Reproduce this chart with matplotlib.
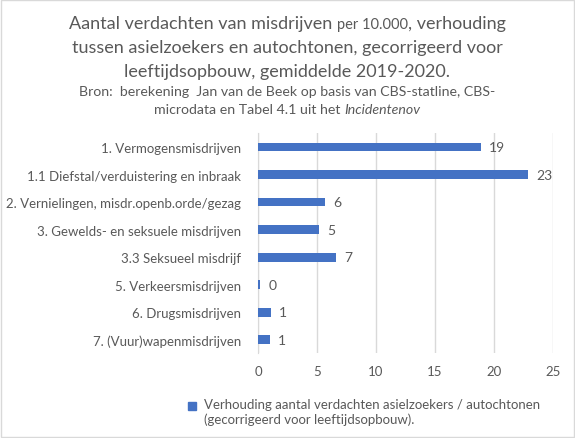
import matplotlib
matplotlib.use("Agg")
import matplotlib.pyplot as plt
from matplotlib.patches import Rectangle

categories = [
    "1. Vermogensmisdrijven",
    "1.1 Diefstal/verduistering en inbraak",
    "2. Vernielingen, misdr.openb.orde/gezag",
    "3. Gewelds- en seksuele misdrijven",
    "3.3 Seksueel misdrijf",
    "5. Verkeersmisdrijven",
    "6. Drugsmisdrijven",
    "7. (Vuur)wapenmisdrijven",
]
values = [18.9, 22.9, 5.7, 5.2, 6.6, 0.2, 1.1, 1.0]
xticks = [0, 5, 10, 15, 20, 25]
legend_label = "Verhouding aantal verdachten asielzoekers / autochtonen\n(gecorrigeerd voor leeftijdsopbouw)."

plt.rcParams['font.family'] = ['Lato', 'DejaVu Sans']
grey = '#595959'
blue = '#4472C4'

fig = plt.figure(figsize=(5.75, 4.39), dpi=100)
fig.patches.append(Rectangle((0.002, 0.002), 0.996, 0.996, transform=fig.transFigure,
                             fill=False, edgecolor='#D9D9D9', linewidth=1))

ax = fig.add_axes([0.4487, 0.1925, 0.513, 0.5017])
pos = list(range(len(categories)))
bars = ax.barh(pos, values, height=0.32, color=blue, zorder=3)
for b, v in zip(bars, values):
    ax.text(b.get_width() + 0.7, b.get_y() + b.get_height() / 2, f"{v:.0f}",
            va='center', ha='left', fontsize=10, color=grey)

ax.set_xlim(0, 25)
ax.set_ylim(len(categories) - 0.5, -0.5)
ax.set_xticks(xticks)
ax.set_xticklabels([str(t) for t in xticks])
ax.set_yticks(pos)
ax.set_yticklabels(categories)
ax.tick_params(axis='both', length=0, labelsize=9.5, labelcolor=grey)
ax.tick_params(axis='y', pad=12)
ax.tick_params(axis='x', pad=8)
ax.grid(axis='x', color='#D9D9D9', linewidth=1)
ax.set_axisbelow(True)
for s in ['top', 'right', 'bottom']:
    ax.spines[s].set_visible(False)
ax.spines['left'].set_color('#D9D9D9')

# legend
fig.patches.append(Rectangle((188 / 575, 1 - 411 / 439), 8 / 575, 8 / 439,
                             transform=fig.transFigure, color=blue))
fig.text(204 / 575, 1 - 399 / 439, legend_label, ha='left', va='top',
         fontsize=9.5, color=grey, linespacing=1.25)


def centered_line(parts, y):
    # parts: list of (text, fontsize, style)
    texts = [fig.text(0, y, t, fontsize=fs, style=st, color=grey, va='baseline')
             for t, fs, st in parts]
    r = fig.canvas.get_renderer()
    widths = [t.get_window_extent(r).width for t in texts]
    x = (fig.bbox.width - sum(widths)) / 2
    for t, w in zip(texts, widths):
        t.set_x(x / fig.bbox.width)
        x += w


centered_line([("Aantal verdachten van misdrijven ", 13, 'normal'),
               ("per 10.000", 10.5, 'normal'),
               (", verhouding", 13, 'normal')], 1 - 29 / 439)
centered_line([("tussen asielzoekers en autochtonen, gecorrigeerd voor", 13, 'normal')], 1 - 53 / 439)
centered_line([("leeftijdsopbouw, gemiddelde 2019-2020.", 13, 'normal')], 1 - 77 / 439)
centered_line([("Bron:  berekening  Jan van de Beek op basis van CBS-statline, CBS-", 10.2, 'normal')], 1 - 96 / 439)
centered_line([("microdata en Tabel 4.1 uit het ", 10.2, 'normal'),
               ("Incidentenov", 10.2, 'italic')], 1 - 114 / 439)

fig.savefig("out.png", dpi=100)
